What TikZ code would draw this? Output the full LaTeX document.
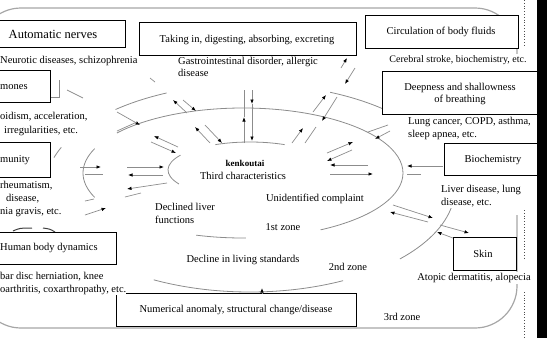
\documentclass[tikz,border=0pt]{standalone}
\usepackage{fontspec}
\setmainfont{Liberation Serif}
\usetikzlibrary{arrows.meta}
\begin{document}
\begin{tikzpicture}[x=1pt,y=-1pt,
  txt/.style={font=\fontsize{10.5}{12.5}\selectfont, inner sep=1pt, fill=white, align=left},
  ctxt/.style={font=\fontsize{10.5}{12.5}\selectfont, inner sep=1pt, align=center},
  box/.style={draw=black, line width=0.8pt, fill=white, inner sep=0pt},
  zone/.style={draw=black!45, line width=0.8pt},
  frame/.style={draw=black!35, line width=1.2pt},
  ar/.style={draw=black!45, line width=0.7pt, -{Latex[length=4.5pt,width=3.5pt,color=black]}},
  ln/.style={draw=black!45, line width=0.7pt}]
\useasboundingbox (0,0) rectangle (547,338);
% outer frame (3rd zone)
\draw[frame, rounded corners=42pt] (517,60) -- (517,8) -- (-21,8) -- (-21,328) -- (517,328) -- (517,215);
% zone A (core)
\draw[zone] (250,170) ++(150:82 and 28) arc[start angle=150, end angle=212, x radius=82, y radius=28];
\draw[zone] (250,170) ++(245:82 and 28) arc[start angle=245, end angle=295, x radius=82, y radius=28];
% zone B (1st zone)
\draw[zone] (243,173) ++(218:160 and 65) arc[start angle=218, end angle=421, x radius=160, y radius=65];
\draw[zone] (243,173) ++(89:160 and 65) arc[start angle=89, end angle=107, x radius=160, y radius=65];
\draw[zone] (243,173) ++(158:160 and 65) arc[start angle=158, end angle=202, x radius=160, y radius=65];
% zone C (2nd zone)
\draw[zone] (250,188) ++(229:205 and 104) arc[start angle=229, end angle=246, x radius=205, y radius=104];
\draw[zone] (250,188) ++(293:205 and 104) arc[start angle=293, end angle=312, x radius=205, y radius=104];
\draw[zone] (250,188) ++(10:205 and 104) arc[start angle=10, end angle=43, x radius=205, y radius=104];
\draw[zone] (250,188) ++(63:205 and 104) arc[start angle=63, end angle=118, x radius=205, y radius=104];
\draw[zone] (250,188) ++(197:205 and 104) arc[start angle=197, end angle=203, x radius=205, y radius=104];
% small marks
\draw[ln] (67,90) -- (83,98);
\draw[ln] (150,78) -- (155,82);
\draw[ln] (59,80) -- (59,97) -- (50,97);
\draw[draw=black!75, line width=1pt] (13,231) .. controls (20,228) .. (32,228);
\draw[draw=black!75, line width=1pt] (43,228) .. controls (50,229) .. (55,232);
% boxes
\node[box, minimum width=127pt, minimum height=27pt] (nervesbox) at (61.5,33.5) {};
\node[ctxt, font=\fontsize{12.5}{14}\selectfont] (nerves) at (53,34) {Automatic nerves};
\node[box, minimum width=80pt, minimum height=32pt] (hormbox) at (10,86) {};
\node[ctxt, anchor=west, inner sep=0pt] (horm) at (0,87) {mones};
\node[box, minimum width=80pt, minimum height=35pt] (immbox) at (10,159.5) {};
\node[ctxt, anchor=west, inner sep=0pt] (imm) at (0,160) {munity};
\node[box, minimum width=146pt, minimum height=32pt] (humbox) at (43,248) {};
\node[ctxt, anchor=west, inner sep=0pt] (hum) at (0,248) {Human body dynamics};
\node[box, minimum width=240pt, minimum height=33pt] (numbox) at (236,309.5) {};
\node[ctxt] (num) at (236,310) {Numerical anomaly, structural change/disease};
\node[box, minimum width=217pt, minimum height=33pt] (takebox) at (247.5,38.5) {};
\node[ctxt] (take) at (247,40) {Taking in, digesting, absorbing, excreting};
\node[box, minimum width=153pt, minimum height=33pt] (circbox) at (441.5,31.5) {};
\node[ctxt] (circ) at (441,32) {Circulation of body fluids};
\node[box, minimum width=163pt, minimum height=43pt] (deepbox) at (463.5,92.5) {};
\node[ctxt] (deep) at (460,94) {Deepness and shallowness\\of breathing};
\node[box, minimum width=101pt, minimum height=32pt] (biobox) at (494.5,159) {};
\node[ctxt] (bio) at (493,160) {Biochemistry};
\node[box, minimum width=63pt, minimum height=33pt] (skinbox) at (484.5,253.5) {};
\node[ctxt] (skin) at (483,254) {Skin};
% descriptive texts
\node[txt, anchor=west, inner sep=0pt] (t1) at (0,61) {Neurotic diseases, schizophrenia};
\node[txt, anchor=west, inner sep=0pt] (t2) at (0,117) {oidism, acceleration,};
\node[txt, anchor=west] (t3) at (3,131) {irregularities, etc.};
\node[txt, anchor=west, inner sep=0pt] (t4) at (0,186) {rheumatism,};
\node[txt, anchor=west] (t5) at (5,199) {disease,};
\node[txt, anchor=west, inner sep=0pt] (t6) at (0,212) {nia gravis, etc.};
\node[txt, anchor=west, inner sep=0pt] (t7) at (0,277) {bar disc herniation, knee};
\node[txt, anchor=west, inner sep=0pt] (t8) at (0,290) {oarthritis, coxarthropathy, etc.};
\node[txt, anchor=west] (t9) at (177,67) {Gastrointestinal disorder, allergic\\disease};
\node[txt, font=\fontsize{10}{12}\selectfont] (t10) at (458,60) {Cerebral stroke, biochemistry, etc.};
\node[txt, anchor=west] (t11) at (407,128.5) {Lung cancer, COPD, asthma,\\sleep apnea, etc.};
\node[txt, anchor=west] (t12) at (440,196) {Liver disease, lung\\disease, etc.};
\node[txt] (t13) at (474,278) {Atopic dermatitis, alopecia};
\node[txt, font=\bfseries\fontsize{9}{11}\selectfont] (core) at (245,163) {kenkoutai};
\node[txt] (third) at (243,176) {Third characteristics};
\node[txt] (unid) at (315,199) {Unidentified complaint};
\node[txt, anchor=west] (liver) at (154,213.5) {Declined liver\\functions};
\node[txt] (z1) at (283,227) {1st zone};
\node[txt] (living) at (243,260) {Decline in living standards};
\node[txt] (z2) at (348,267) {2nd zone};
\node[txt] (z3) at (402,317) {3rd zone};
% arrows
\draw[ar] (244,143) -- (244,117);
\draw[ln] (244,117) -- (244,90);
\draw[ar] (252,90) -- (252,104);
\draw[ar] (252,104) -- (252,141);
\draw[ar] (210,143) -- (195,127);
\draw[ar] (205,125) -- (222,143);
\draw[ar] (187,113) -- (173,100);
\draw[ar] (183,100) -- (196,111);
\draw[ar] (178,147) -- (154,136);
\draw[ar] (151,142) -- (176,153);
\draw[ar] (117,112) -- (140,125);
\draw[ln] (117,131) -- (137,122);
\draw[ar] (80,167) -- (101,167);
\draw[ln] (85,174) -- (103,174);
\draw[ar] (127,167) -- (164,167);
\draw[ar] (163,175) -- (128,175);
\draw[ar] (167,183) -- (127,189);
\draw[ln] (125,197) -- (141,193);
\draw[ln] (85,201) -- (94,199);
\draw[ar] (85,215) -- (106,208);
\draw[ar] (341,68) -- (347,58);
\draw[ar] (355,68) -- (345,84);
\draw[ar] (313,112) -- (326,95);
\draw[ar] (337,97) -- (322,121);
\draw[ar] (292,143) -- (303,128);
\draw[ln] (305,143) -- (316,127);
\draw[ar] (327,153) -- (353,142);
\draw[ar] (352,150) -- (327,161);
\draw[ln] (368,132) -- (388,125);
\draw[ar] (390,131) -- (375,139);
\draw[ar] (368,165) -- (330,165);
\draw[ar] (330,174) -- (373,174);
\draw[ar] (443,166) -- (407,166);
\draw[ln] (407,174) -- (421,174);
\draw[ar] (393,205) -- (433,218);
\draw[ar] (428,222) -- (390,212);
\draw[ar] (440,225) -- (469,233);
\draw[ar] (453,238) -- (437,232);
\draw[ar] (262,294) -- (262,288);
% right edge
\draw[black!70, dotted, line width=0.8pt] (524,0) -- (524,45);
\draw[black!70, dotted, line width=0.8pt] (524,210) -- (524,258);
\draw[black!70, dotted, line width=0.8pt] (524,292) -- (524,338);
\fill[black] (537,0) rectangle (547,338);
\end{tikzpicture}
\end{document}
